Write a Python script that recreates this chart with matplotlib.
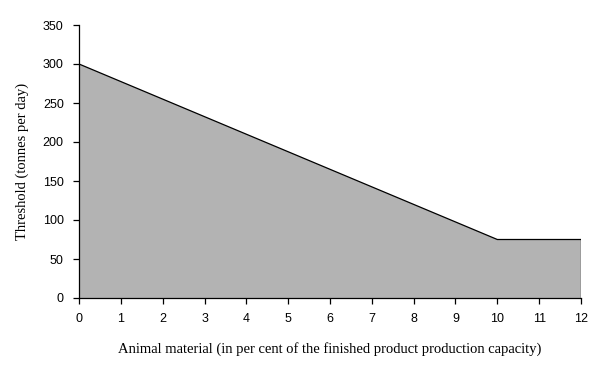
import matplotlib.pyplot as plt

# animal material share (%) and threshold (tonnes per day)
animal_pct = [0, 1, 2, 3, 4, 5, 6, 7, 8, 9, 10, 11, 12]
threshold = [300, 277.5, 255, 232.5, 210, 187.5, 165, 142.5, 120, 97.5, 75, 75, 75]

x_ticks = list(range(0, 13))
y_ticks = [0, 50, 100, 150, 200, 250, 300, 350]

fig = plt.figure(figsize=(5.98, 3.75), dpi=100)
ax = fig.add_axes([79 / 598, 1 - 298 / 375, 502 / 598, 273 / 375])

ax.fill_between(animal_pct, threshold, 0, facecolor='#b3b3b3', edgecolor='none')
ax.plot(animal_pct, threshold, color='black', lw=0.9)
ax.plot([animal_pct[-1], animal_pct[-1]], [0, threshold[-1]], color='black', lw=0.9)

ax.set_xlim(0, 12)
ax.set_ylim(0, 350)
ax.set_xticks(x_ticks)
ax.set_yticks(y_ticks)

for s in ['top', 'right']:
    ax.spines[s].set_visible(False)
for s in ['left', 'bottom']:
    ax.spines[s].set_linewidth(0.9)

ax.tick_params(length=4, width=0.9, labelsize=9, pad=7)
for lab in ax.get_xticklabels() + ax.get_yticklabels():
    lab.set_family('Liberation Sans')

ax.set_xlabel('Animal material (in per cent of the finished product production capacity)',
              family='Liberation Serif', fontsize=10.5, labelpad=12)
ax.set_ylabel('Threshold (tonnes per day)', family='Liberation Serif', fontsize=10.5, labelpad=10)

plt.savefig('out.png', dpi=100)
